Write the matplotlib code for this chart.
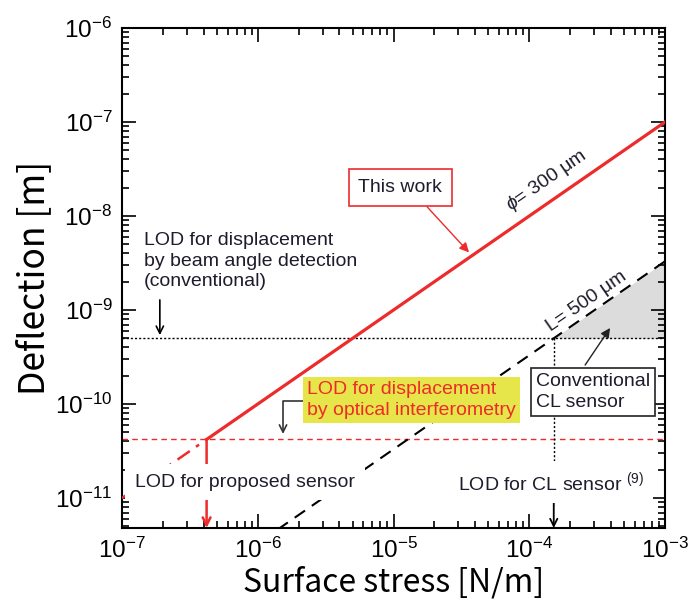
import numpy as np
import matplotlib
matplotlib.use('Agg')
import matplotlib.pyplot as plt

plt.rcParams['font.family'] = ['Liberation Sans', 'DejaVu Sans']
plt.rcParams['mathtext.fontset'] = 'custom'
plt.rcParams['mathtext.rm'] = 'Liberation Sans'
plt.rcParams['mathtext.it'] = 'Liberation Sans:italic'
plt.rcParams['axes.unicode_minus'] = False

# data
stress_lim = [1e-7, 1e-3]          # surface stress range [N/m]
defl_lim = [4.8e-12, 1e-6]         # deflection range [m]
coef_this = 1e-4                   # deflection / stress, this work (phi = 300 um)
coef_cl = 3.3e-6                   # deflection / stress, conventional CL (L = 500 um)
lod_beam = 5e-10                   # LOD beam angle detection [m]
lod_interf = 4.2e-11               # LOD optical interferometry [m]

RED = '#ee2b2b'
TXT = '#1c1c2c'

x_lod = lod_interf / coef_this     # LOD for proposed sensor
x_cl = lod_beam / coef_cl          # LOD for CL sensor

fig = plt.figure(figsize=(6.88, 6.13), dpi=100)
ax = fig.add_axes([122/688, 1-528/613, 543/688, 500/613])
ax.set_xscale('log')
ax.set_yscale('log')
ax.set_xlim(stress_lim)
ax.set_ylim(defl_lim)

# conventional CL region (grey)
xs = np.logspace(np.log10(x_cl), np.log10(stress_lim[1]), 50)
ax.fill_between(xs, lod_beam, coef_cl * xs, color='#dcdcdc', lw=0, zorder=1)

# LOD lines
ax.axhline(lod_beam, color='k', lw=1.0, ls=(0, (1.5, 1.5)), zorder=2)
ax.axhline(lod_interf, color=RED, lw=1.0, ls=(0, (4, 3)), zorder=2)

# this work
xw = np.array([x_lod, stress_lim[1]])
ax.plot(xw, coef_this * xw, color=RED, lw=2.3, zorder=4)
xd = np.array([stress_lim[0], x_lod])
ax.plot(xd, coef_this * xd, color=RED, lw=1.8, ls=(0, (6, 3, 1.5, 3)), zorder=3)

# conventional CL L=500 um
xc = np.array([1.4e-6, stress_lim[1]])
ax.plot(xc, coef_cl * xc, color='k', lw=1.5, ls=(0, (6, 4)), zorder=3)

# vertical LOD markers
ax.annotate('', xy=(x_lod, defl_lim[0]), xytext=(x_lod, lod_interf),
            arrowprops=dict(arrowstyle='->', color=RED, lw=1.8, shrinkA=0, shrinkB=0,
                            mutation_scale=14), zorder=3)
ax.plot([x_cl, x_cl], [lod_beam, 8.5e-12], color='k', lw=1.0, ls=(0, (1.5, 1.5)), zorder=2)
ax.annotate('', xy=(x_cl, defl_lim[0]), xytext=(x_cl, 9e-12),
            arrowprops=dict(arrowstyle='->', color='k', lw=1.3, shrinkA=0, shrinkB=0,
                            mutation_scale=13), zorder=3)

fs = 14
# annotations
ax.text(1.12e-5, 2.0e-8, 'This work', fontsize=fs, color=TXT, ha='center', va='center', zorder=6,
        bbox=dict(boxstyle='square,pad=0.5', fc='white', ec=RED, lw=1.2))
ax.annotate('', xy=(3.6e-5, 4.1e-9), xytext=(1.77e-5, 1.25e-8),
            arrowprops=dict(arrowstyle='-|>', color=RED, lw=1.0, shrinkA=0, shrinkB=0,
                            mutation_scale=14), zorder=5)
ax.text(1.35e-4, 2.4e-8, r'$\phi$= 300 μm', fontsize=fs, color=TXT, ha='center', va='center',
        rotation=34.7, rotation_mode='anchor', zorder=6)
ax.text(2.66e-4, 1.22e-9, 'L= 500 μm', fontsize=fs, color=TXT, ha='center', va='center',
        rotation=34.7, rotation_mode='anchor', zorder=6)

ax.text(1.45e-7, 3.32e-9, 'LOD for displacement\nby beam angle detection\n(conventional)',
        fontsize=fs, color=TXT, ha='left', va='center', linespacing=1.3, zorder=6)
ax.annotate('', xy=(1.9e-7, 5.4e-10), xytext=(1.9e-7, 1.28e-9),
            arrowprops=dict(arrowstyle='->', color='k', lw=1.2, shrinkA=0, shrinkB=0,
                            mutation_scale=13), zorder=5)

ax.text(2.31e-6, 1.1e-10, 'LOD for displacement\nby optical interferometry', fontsize=fs,
        color=RED, ha='left', va='center', linespacing=1.3, zorder=6,
        bbox=dict(boxstyle='square,pad=0.2', fc='#e6e64a', ec='none'))
ax.annotate('', xy=(1.535e-6, 4.8e-11), xytext=(2.23e-6, 1.076e-10),
            arrowprops=dict(arrowstyle='->', color='#333333', lw=1.2, shrinkA=0, shrinkB=0,
                            mutation_scale=13, connectionstyle='angle,angleA=0,angleB=90,rad=0'),
            zorder=5)

ax.text(2.95e-4, 1.34e-10, 'Conventional\nCL sensor', fontsize=fs, color=TXT, ha='center',
        va='center', multialignment='left', linespacing=1.3, zorder=6,
        bbox=dict(boxstyle='square,pad=0.25', fc='white', ec='#222222', lw=1.2))
ax.annotate('', xy=(3.94e-4, 6.44e-10), xytext=(2.58e-4, 2.6e-10),
            arrowprops=dict(arrowstyle='-|>', color='#222222', lw=1.0, shrinkA=0, shrinkB=0,
                            mutation_scale=14), zorder=5)

ax.text(1.25e-7, 1.48e-11, 'LOD for proposed sensor', fontsize=fs, color=TXT, ha='left',
        va='center', zorder=6, bbox=dict(boxstyle='square,pad=0.5', fc='white', ec='none'))
ax.text(2.99e-5, 1.48e-11, 'LOD for CL sensor $^{(9)}$', fontsize=fs, color=TXT, ha='left',
        va='center', zorder=6, bbox=dict(boxstyle='square,pad=0.45', fc='white', ec='none'))

# axes styling
ax.tick_params(which='both', direction='in', top=True, right=True, width=1.2, labelsize=17.5, pad=7)
ax.tick_params(which='major', length=10)
ax.tick_params(which='minor', length=5)
for s in ax.spines.values():
    s.set_linewidth(1.5)
ax.set_xticks([1e-7, 1e-6, 1e-5, 1e-4, 1e-3])
ax.set_yticks([1e-11, 1e-10, 1e-9, 1e-8, 1e-7, 1e-6])

ax.set_xlabel('Surface stress [N/m]', fontsize=23, family=['Noto Sans CJK KR', 'DejaVu Sans'], labelpad=2)
ax.set_ylabel('Deflection [m]', fontsize=25.5, family=['Noto Sans CJK KR', 'DejaVu Sans'], labelpad=2)

fig.savefig('out.png', dpi=100)
